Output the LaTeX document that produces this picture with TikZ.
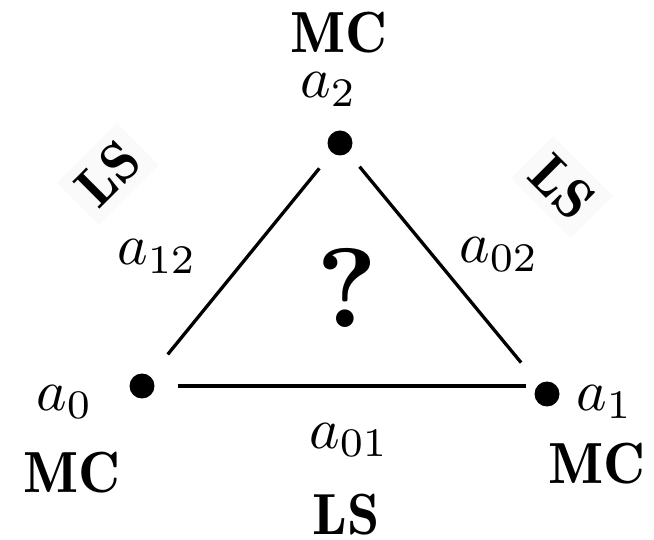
\documentclass[tikz,border=0pt]{standalone}
\usepackage{graphicx}
\newcommand{\mybig}[2]{\scalebox{#1}{#2}}
\tikzset{
  dot/.style={circle, fill=black, draw=none, minimum size=25pt, inner sep=0pt},
  edge/.style={line width=3.3pt},
  mlabel/.style={inner sep=0pt},
  blabel/.style={inner sep=0pt},
  rlabel/.style={inner sep=10pt, fill=black!2},
}
\begin{document}
\begin{tikzpicture}[x=1pt, y=-1pt]
\useasboundingbox (0,0) rectangle (654,540);
% vertices
\node[dot] (a2) at (340,143) {};
\node[dot] (a0) at (142,386) {};
\node[dot] (a1) at (547,394) {};
% edges
\draw[edge, shorten <=28pt, shorten >=20pt] (a0) -- (a2);
\draw[edge, shorten <=18pt, shorten >=28pt] (a2) -- (a1);
\draw[edge, shorten <=23pt, shorten >=21pt] (a0) -- (a0 -| a1);
% vertex labels
\node[mlabel, anchor=base west] (l2) at (300,98) {\mybig{5.8}{$a_2$}};
\node[mlabel, anchor=base west] (l0) at (36,410) {\mybig{5.8}{$a_0$}};
\node[mlabel, anchor=base west] (l1) at (576,410) {\mybig{5.8}{$a_1$}};
% edge labels
\node[mlabel, anchor=base west] (l12) at (117,265) {\mybig{5.8}{$a_{12}$}};
\node[mlabel, anchor=base west] (l02) at (459,263) {\mybig{5.8}{$a_{02}$}};
\node[mlabel, anchor=base west] (l01) at (309,448) {\mybig{5.8}{$a_{01}$}};
% MC labels
\node[blabel, anchor=base] (mc2) at (339,53) {\mybig{5.8}{\fontseries{b}\selectfont MC}};
\node[blabel, anchor=base] (mc0) at (72,492) {\mybig{5.8}{\fontseries{b}\selectfont MC}};
\node[blabel, anchor=base] (mc1) at (597,483) {\mybig{5.8}{\fontseries{b}\selectfont MC}};
% LS labels
\node[blabel, anchor=base] (ls01) at (346,534) {\mybig{5.8}{\fontseries{b}\selectfont LS}};
\node[rlabel, rotate=45] (ls12) at (108,174) {\mybig{5.6}{\fontseries{b}\selectfont LS}};
\node[rlabel, rotate=-45] (ls02) at (562,187) {\mybig{5.6}{\fontseries{b}\selectfont LS}};
% question mark
\node[inner sep=0pt] (q) at (347,288) {\mybig{11.3}{\bfseries ?}};
\end{tikzpicture}
\end{document}
